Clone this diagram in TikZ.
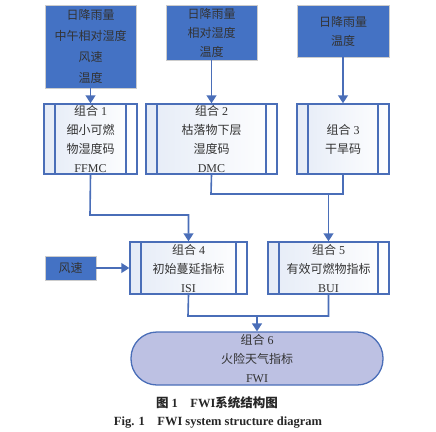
\documentclass[tikz,border=0pt]{standalone}
\usepackage{fontspec}
\setmainfont{Liberation Serif}
\newfontfamily\cjk{Noto Sans CJK SC}
\usetikzlibrary{arrows.meta}
\definecolor{fwiblue}{HTML}{4472C4}
\definecolor{fwiline}{HTML}{4A6EB8}
\definecolor{fwipale}{HTML}{BDC1E3}
\definecolor{fwitext}{HTML}{333333}
\tikzset{
  inbox/.style={draw=black!20, fill=fwiblue, text=fwitext, font=\fontsize{12}{19}\selectfont,
    align=center, inner sep=0pt},
  combo/.style={draw=fwiline, line width=1.5pt, left color=fwiblue!14, right color=white,
    text=fwitext, font=\fontsize{12}{19}\selectfont, align=center, inner sep=0pt,
    path picture={\draw[fwiline, line width=1.4pt]
      ([xshift=11pt]path picture bounding box.north west) -- ([xshift=11pt]path picture bounding box.south west)
      ([xshift=-11pt]path picture bounding box.north east) -- ([xshift=-11pt]path picture bounding box.south east);}},
  link/.style={draw=fwiline, line width=1.6pt},
  arr/.style={link, -{Triangle[width=10pt,length=8pt]}}
}
\begin{document}
\begin{tikzpicture}[x=1pt,y=-1pt]
\useasboundingbox (0,0) rectangle (436,431);
% inputs
\node[inbox, minimum width=91pt, minimum height=83pt, font=\fontsize{12}{21}\selectfont] (in1) at (90.5,46.5)
  {\cjk 日降雨量\\\cjk 中午相对湿度\\\cjk 风速\\\cjk 温度};
\node[inbox, minimum width=91pt, minimum height=55pt] (in2) at (211.5,32.5)
  {\cjk 日降雨量\\\cjk 相对湿度\\\cjk 温度};
\node[inbox, minimum width=92pt, minimum height=52pt] (in3) at (343,31)
  {\cjk 日降雨量\\\cjk 温度};
\node[inbox, minimum width=51pt, minimum height=24pt] (wind) at (70.5,268) {\cjk 风速};
% codes and indices
\node[combo, minimum width=93pt, minimum height=70pt] (c1) at (90.5,139)
  {{\cjk 组合} 1\\\cjk 细小可燃\\\cjk 物湿度码\\FFMC};
\node[combo, minimum width=131pt, minimum height=70pt] (c2) at (211.5,139)
  {{\cjk 组合} 2\\\cjk 枯落物下层\\\cjk 湿度码\\DMC};
\node[combo, minimum width=92pt, minimum height=70pt] (c3) at (343,139)
  {{\cjk 组合} 3\\\cjk 干旱码};
\node[combo, minimum width=117pt, minimum height=52pt] (c4) at (188.5,268)
  {{\cjk 组合} 4\\\cjk 初始蔓延指标\\ISI};
\node[combo, minimum width=121pt, minimum height=52pt] (c5) at (328.5,268)
  {{\cjk 组合} 5\\\cjk 有效可燃物指标\\BUI};
\node[draw=fwiline, line width=1.3pt, fill=fwipale, rounded corners=26pt, minimum width=252pt,
  minimum height=53pt, text=fwitext, font=\fontsize{12}{19}\selectfont, align=center, inner sep=0pt] (fwi) at (257,358.5)
  {{\cjk 组合} 6\\\cjk 火险天气指标\\FWI};
% connectors
\coordinate (j1) at (90,215);
\coordinate (j2) at (211,194);
\coordinate (j3) at (188,316);
\draw[arr] (in1) -- (c1);
\draw[arr] (in2) -- (c2);
\draw[arr] (in3) -- (c3);
\draw[arr] (wind) -- (c4);
\draw[arr] (c1.south) -- (j1) -| (c4.north);
\draw[link] (c2.south) -- (j2) -| (c3.south);
\draw[arr] (c5.north |- j2) -- (c5.north);
\draw[link] (c4.south) -- (j3) -| (c5.south);
\draw[arr] (fwi.north |- j3) -- (fwi.north);
% caption
\node[font=\fontsize{12.5}{14}\selectfont\bfseries, text=black!85] (cap1) at (217,403) {{\cjk 图} 1\quad FWI{\cjk 系统结构图}};
\node[font=\fontsize{12.5}{14}\selectfont\bfseries, text=black!85] (cap2) at (218,423) {Fig. 1\quad FWI system structure diagram};
\end{tikzpicture}
\end{document}
